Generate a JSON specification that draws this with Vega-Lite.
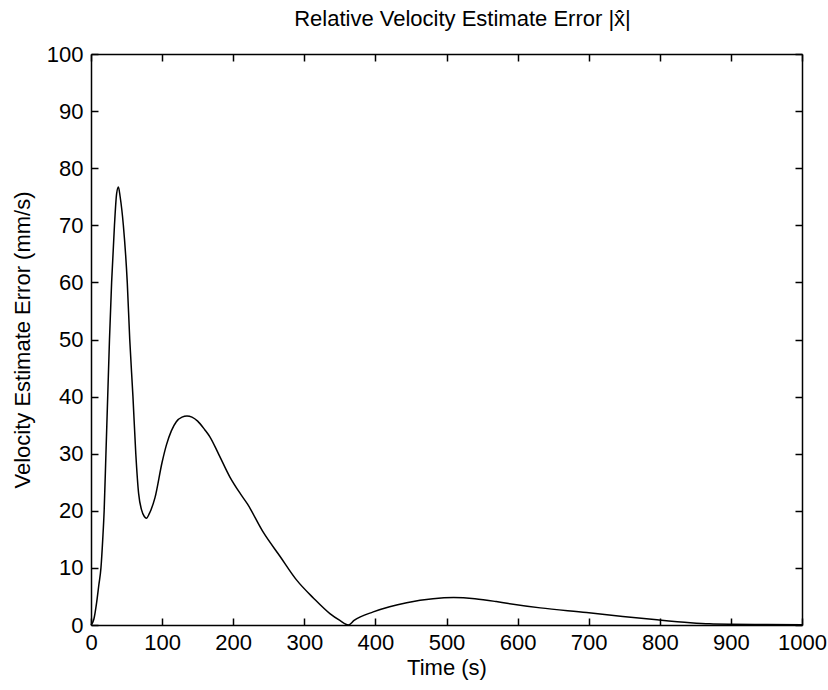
{
  "$schema": "https://vega.github.io/schema/vega-lite/v6.json",
  "width": 711,
  "height": 571,
  "autosize": {"type": "none"},
  "padding": {"left": 91, "top": 54, "right": 26, "bottom": 65},
  "background": "white",
  "title": {"text": "Relative Velocity Estimate Error |ẋ̂|", "font": "Liberation Sans", "fontSize": 22, "fontWeight": "normal", "color": "black", "offset": 12, "dx": 16},
  "config": {
    "view": {"stroke": null},
    "axis": {"domainColor": "black", "domainWidth": 1.5, "tickColor": "black", "tickWidth": 1.5, "labelColor": "black", "titleColor": "black", "labelFont": "Liberation Sans", "titleFont": "Liberation Sans", "labelFontSize": 22, "titleFontSize": 22, "titleFontWeight": "normal", "grid": false, "labelFlush": false, "labelOverlap": false}
  },
  "data": {"values": [
    {"t": 0, "v": 0}, {"t": 4, "v": 1}, {"t": 8, "v": 4}, {"t": 11, "v": 7}, {"t": 14, "v": 10},
    {"t": 16.5, "v": 15}, {"t": 18.5, "v": 20}, {"t": 21, "v": 30}, {"t": 23.5, "v": 40}, {"t": 26, "v": 50},
    {"t": 29, "v": 60}, {"t": 33, "v": 70}, {"t": 36, "v": 75.5}, {"t": 38.5, "v": 76.7}, {"t": 41, "v": 75},
    {"t": 45.5, "v": 70}, {"t": 51, "v": 60}, {"t": 54.5, "v": 50}, {"t": 59, "v": 40}, {"t": 63, "v": 30},
    {"t": 67, "v": 23}, {"t": 71, "v": 20.2}, {"t": 75, "v": 19}, {"t": 78, "v": 18.7}, {"t": 82, "v": 19.5},
    {"t": 90, "v": 22.3}, {"t": 100, "v": 28.5}, {"t": 106, "v": 31.5}, {"t": 113, "v": 34}, {"t": 120, "v": 35.6},
    {"t": 128, "v": 36.4}, {"t": 135, "v": 36.6}, {"t": 142, "v": 36.4}, {"t": 150, "v": 35.7}, {"t": 160, "v": 34.2},
    {"t": 167, "v": 33}, {"t": 180, "v": 29.8}, {"t": 195, "v": 26}, {"t": 210, "v": 23}, {"t": 220, "v": 21.2},
    {"t": 242, "v": 16.3}, {"t": 266, "v": 12}, {"t": 289, "v": 7.9}, {"t": 313, "v": 4.7}, {"t": 336, "v": 2.0},
    {"t": 350, "v": 0.8}, {"t": 362, "v": 0}, {"t": 370, "v": 0.8}, {"t": 397, "v": 2.3}, {"t": 420, "v": 3.2},
    {"t": 444, "v": 3.9}, {"t": 481, "v": 4.6}, {"t": 510, "v": 4.8}, {"t": 540, "v": 4.6}, {"t": 570, "v": 4.1},
    {"t": 585, "v": 3.8}, {"t": 632, "v": 3.0}, {"t": 697, "v": 2.2}, {"t": 748, "v": 1.5}, {"t": 796, "v": 0.9},
    {"t": 843, "v": 0.4}, {"t": 870, "v": 0.2}, {"t": 900, "v": 0.12}, {"t": 950, "v": 0.08}, {"t": 1000, "v": 0.05}
  ]},
  "layer": [
    {
      "mark": {"type": "line", "color": "black", "strokeWidth": 1.5, "interpolate": "monotone"},
      "encoding": {
        "x": {"field": "t", "type": "quantitative", "scale": {"domain": [0, 1000], "nice": false},
          "axis": {"orient": "bottom", "values": [0, 100, 200, 300, 400, 500, 600, 700, 800, 900, 1000], "format": "d", "tickSize": -7, "labelPadding": 14, "title": "Time (s)", "titlePadding": 4}},
        "y": {"field": "v", "type": "quantitative", "scale": {"domain": [0, 100], "nice": false},
          "axis": {"orient": "left", "values": [0, 10, 20, 30, 40, 50, 60, 70, 80, 90, 100], "format": "d", "tickSize": -7, "labelPadding": 15, "title": "Velocity Estimate Error (mm/s)", "titlePadding": 12}}
      }
    },
    {
      "mark": {"type": "line", "opacity": 0},
      "encoding": {
        "x": {"field": "t", "type": "quantitative", "scale": {"domain": [0, 1000], "nice": false},
          "axis": {"orient": "top", "values": [0, 100, 200, 300, 400, 500, 600, 700, 800, 900, 1000], "tickSize": -7, "labels": false, "title": null}},
        "y": {"field": "v", "type": "quantitative", "scale": {"domain": [0, 100], "nice": false},
          "axis": {"orient": "right", "values": [0, 10, 20, 30, 40, 50, 60, 70, 80, 90, 100], "tickSize": -7, "labels": false, "title": null}}
      }
    }
  ],
  "resolve": {"axis": {"x": "independent", "y": "independent"}}
}
